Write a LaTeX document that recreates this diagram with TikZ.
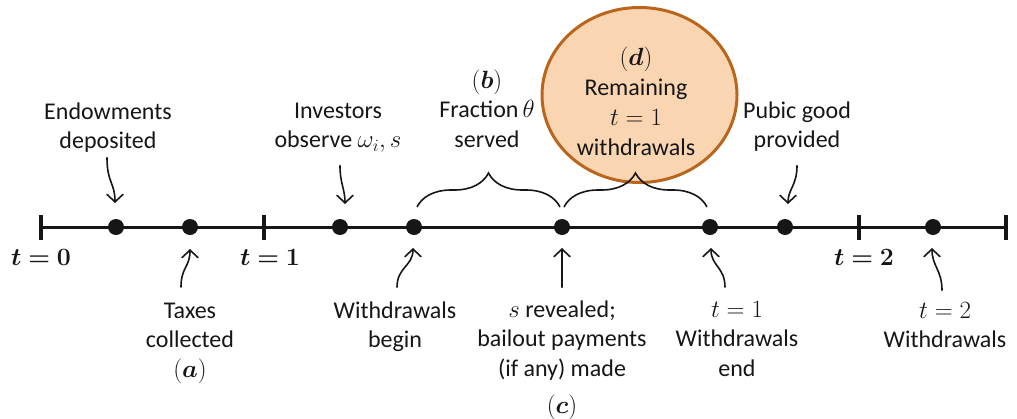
\documentclass[tikz,border=0pt]{standalone}
\usepackage{bm}
\usepackage{fontspec}
\setmainfont{Carlito}
\usetikzlibrary{arrows.meta,decorations.pathreplacing,calc,shapes.geometric}
\definecolor{circfill}{RGB}{250,213,178}
\definecolor{circedge}{RGB}{185,102,28}
\definecolor{ink}{RGB}{22,22,22}
\begin{document}
\begin{tikzpicture}[x=1pt,y=-1pt,
  lbl/.style={align=center, inner sep=0pt, text=ink, font=\fontsize{24}{29.5}\selectfont},
  tlbl/.style={inner sep=0pt, anchor=base, text=ink, font=\fontsize{24}{29.5}\selectfont},
  dot/.style={circle, fill=ink, inner sep=0pt, minimum size=16pt},
  tickmark/.style={rectangle, fill=ink, inner sep=0pt, minimum width=4pt, minimum height=25pt},
  arr/.style={line width=1.6pt, draw=ink, line cap=round, -{Straight Barb[length=7.5pt,width=16pt,line cap=round]}},
  brc/.style={draw=ink, line width=1.6pt, decorate, decoration={brace, amplitude=34pt}},
  bubble/.style={ellipse, draw=circedge, fill=circfill, line width=3pt, minimum width=195pt, minimum height=175pt, inner sep=0pt}
]
\useasboundingbox (0,0) rectangle (1017,418);

% ticks and dots
\node[tickmark] (tk0) at (41,227) {};
\node[tickmark] (tk1) at (264,227) {};
\node[tickmark] (tk2) at (859,227) {};
\node[tickmark] (tk3) at (1006,227) {};
\draw[ink, line width=3pt] (tk0.center) -- (tk3.center);
\node[dot] (d1) at (116,227) {};
\node[dot] (d2) at (190,227) {};
\node[dot] (d3) at (340,227) {};
\node[dot] (d4) at (414,227) {};
\node[dot] (d5) at (562,227) {};
\node[dot] (d6) at (710,227) {};
\node[dot] (d7) at (785,227) {};
\node[dot] (d8) at (933,227) {};

% time labels
\node[tlbl] (t0) at (41,265) {$\bm{t=0}$};
\node[tlbl] (t1) at (270,265) {$\bm{t=1}$};
\node[tlbl] (t2) at (864,265) {$\bm{t=2}$};

% bubble
\node[bubble] (bubble) at (639.5,95) {};
\node[lbl, font=\fontsize{24}{30}\selectfont] (remain) at (636,104) {\strut$(\bm{d})$\\\strut Remaining\\\strut$t=1$\\\strut withdrawals};

% top labels
\node[lbl] (endow) at (108,128) {\strut Endowments\\\strut deposited};
\node[lbl] (invest) at (338,127) {\strut Investors\\\strut observe $\omega_i, s$};
\node[lbl] (frac) at (487,111.6) {\strut$(\bm{b})$\\\strut Fraction\,$\theta$\\\strut served};
\node[lbl] (pubic) at (797,127) {\strut Pubic good\\\strut provided};

% bottom labels
\node[lbl] (taxes) at (190,341.6) {\strut Taxes\\\strut collected\\\strut$(\bm{a})$};
\node[lbl] (wbegin) at (395,326.9) {\strut Withdrawals\\\strut begin};
\node[lbl] (srev) at (562,359.1) {\strut$s$ revealed;\\\strut bailout payments\\\strut (if any) made\\[7.5pt]\strut$(\bm{c})$};
\node[lbl] (wend) at (737,340.6) {\strut$t=1$\\\strut Withdrawals\\\strut end};
\node[lbl] (w2) at (945,326.9) {\strut$t=2$\\\strut Withdrawals};

% braces
\draw[brc] ($(d4)+(3,-20)$) -- ($(d5)+(-2,-20)$);
\draw[brc] ($(d5)+(2,-20)$) -- ($(d6)+(-3,-20)$);

% arrows from above
\draw[arr] ($(endow.south)+(-1,0)$) .. controls +(0,25) and +(0,-20) .. ($(d1)+(-1,-24)$);
\draw[arr] ($(invest.south)+(2,9)$) .. controls +(0,18) and +(0,-15) .. ($(d3)+(5,-23)$);
\draw[arr] ($(pubic.south)+(0,9)$) .. controls +(0,20) and +(0,-15) .. ($(d7)+(3,-23)$);

% arrows from below
\draw[arr] ($(taxes.north)+(-9,-10)$) .. controls +(0,-20) and +(0,18) .. ($(d2)+(0,22)$);
\draw[arr] ($(wbegin.north)+(2,-10)$) .. controls +(0,-20) and +(0,18) .. ($(d4)+(-1,21)$);
\draw[arr] ($(srev.north)+(0,-9)$) -- ($(d5)+(0,21)$);
\draw[arr] ($(wend.north)+(-12,-9)$) .. controls +(0,-20) and +(0,18) .. ($(d6)+(1,21)$);
\draw[arr] ($(w2.north)+(-3,-7)$) .. controls +(0,-20) and +(0,18) .. ($(d8)+(-1,21)$);
\end{tikzpicture}
\end{document}
